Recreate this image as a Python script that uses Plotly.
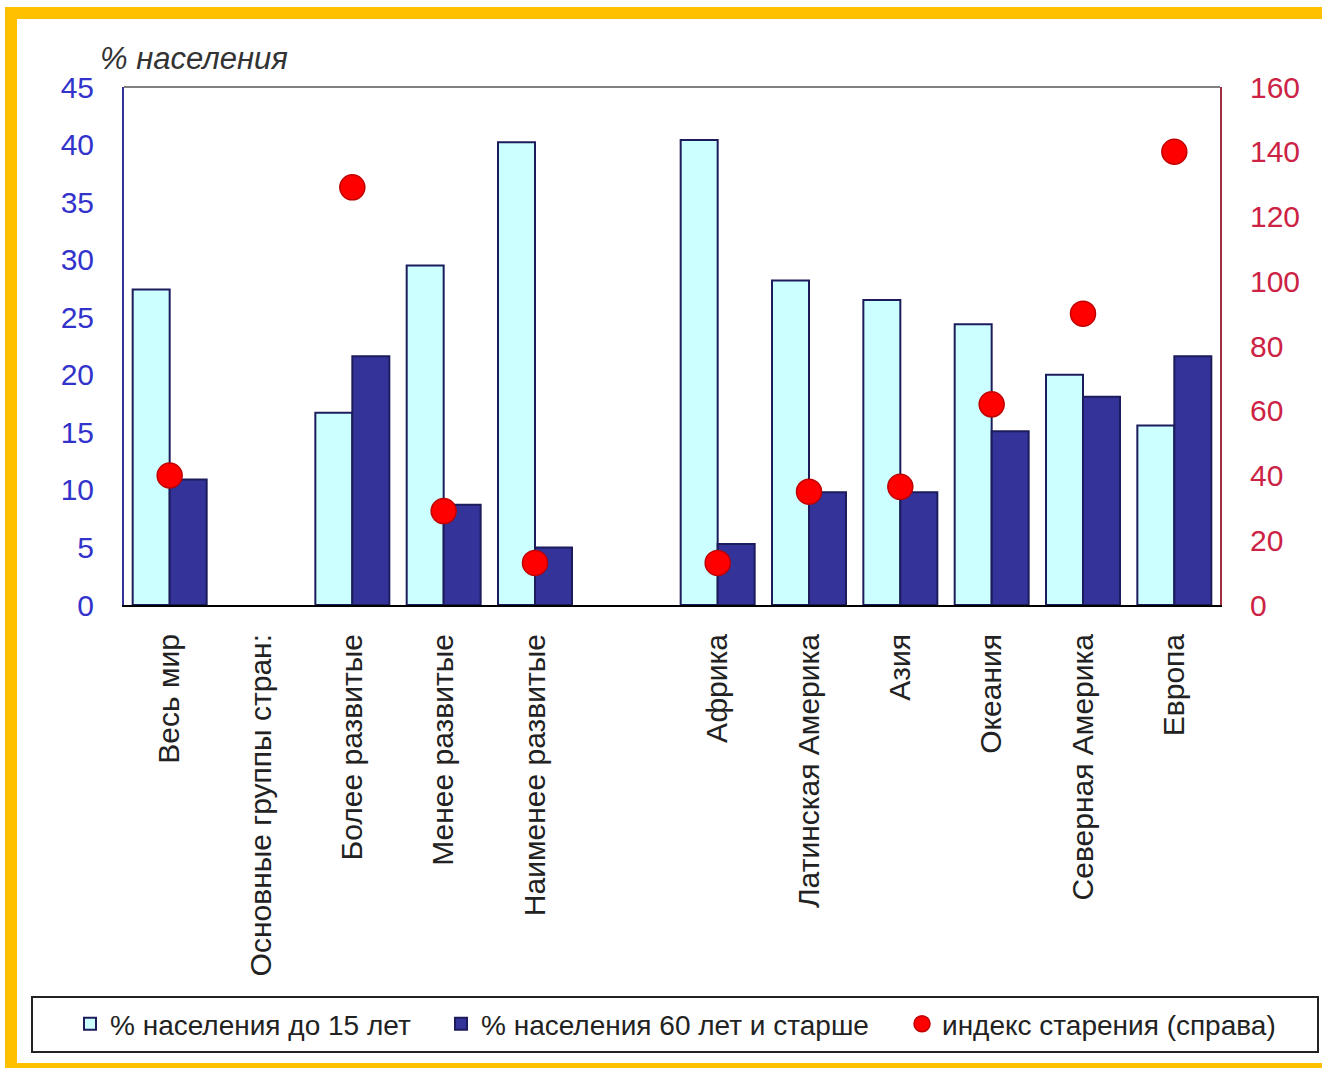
import plotly.graph_objects as go

categories = ["Весь мир", "Основные группы стран:", "Более развитые", "Менее развитые",
              "Наименее развитые", " ", "Африка", "Латинская Америка", "Азия",
              "Океания", "Северная Америка", "Европа"]
under15 = [27.4, None, 16.7, 29.5, 40.2, None, 40.4, 28.2, 26.5, 24.4, 20.0, 15.6]
over60 = [10.9, None, 21.6, 8.7, 5.0, None, 5.3, 9.8, 9.8, 15.1, 18.1, 21.6]
aging_index = [40, None, 129, 29, 13, None, 13, 35, 36.5, 62, 90, 140]

names = ["% населения до 15 лет", "% населения 60 лет и старше", "индекс старения (справа)"]

FONT = "Liberation Sans, Arial, sans-serif"
W, H = 1322, 1068
L, R, T, B = 124, 1220, 87, 605
PW, PH = R - L, B - T


def px(x):
    return (x - L) / PW


def py(y):
    return (B - y) / PH


fig = go.Figure()
fig.add_trace(go.Bar(
    x=categories, y=under15, name=names[0], legend="legend", showlegend=True,
    marker=dict(color="#CCFFFF", line=dict(color="#1C1C5C", width=2)),
))
fig.add_trace(go.Bar(
    x=categories, y=over60, name=names[1], legend="legend2", showlegend=True,
    marker=dict(color="#333399", line=dict(color="#1C1C5C", width=2)),
))
fig.add_trace(go.Scatter(
    x=categories, y=aging_index, name=names[2], yaxis="y2", mode="markers",
    legend="legend3", showlegend=True,
    marker=dict(color="#FF0000", size=25, line=dict(color="#C00000", width=1.5)),
))

leg_common = dict(
    orientation="h", yanchor="middle", xanchor="left",
    xref="container", yref="container",
    bgcolor="rgba(0,0,0,0)", borderwidth=0,
    font=dict(family=FONT, size=28, color="#222222"),
)
LEG_Y = 1 - 1024 / H

shapes = [
    # yellow frame
    dict(type="rect", xref="paper", yref="paper", x0=px(5), x1=px(17), y0=py(1068), y1=py(7),
         fillcolor="#FFC000", line=dict(width=0), layer="above"),
    dict(type="rect", xref="paper", yref="paper", x0=px(5), x1=px(1322), y0=py(19), y1=py(7),
         fillcolor="#FFC000", line=dict(width=0), layer="above"),
    dict(type="rect", xref="paper", yref="paper", x0=px(5), x1=px(1322), y0=py(1068), y1=py(1063),
         fillcolor="#FFC000", line=dict(width=0), layer="above"),
    # top plot border
    dict(type="line", xref="paper", yref="paper", x0=0, x1=1, y0=1, y1=1,
         line=dict(color="#808080", width=2)),
    # legend box
    dict(type="rect", xref="paper", yref="paper", x0=px(32), x1=px(1318), y0=py(1052), y1=py(997),
         line=dict(color="#222222", width=2)),
]

fig.update_layout(
    width=W, height=H, showlegend=True,
    margin=dict(l=L, r=W - R, t=T, b=H - B, pad=0, autoexpand=False),
    paper_bgcolor="white", plot_bgcolor="white",
    barmode="group", bargap=0.19, bargroupgap=0,
    font=dict(family=FONT),
    xaxis=dict(
        range=[-0.5, 11.5], showgrid=False, showline=True, linecolor="#000000", linewidth=2,
        ticks="", tickangle=-90, ticklabelstandoff=15,
        tickfont=dict(family=FONT, size=30, color="#222222"),
    ),
    yaxis=dict(
        range=[0, 45], dtick=5, showgrid=False, zeroline=False, showline=True,
        linecolor="#333399", linewidth=2, ticks="", ticklabelstandoff=22,
        tickfont=dict(family=FONT, size=30, color="#3333CC"),
    ),
    yaxis2=dict(
        range=[0, 160], dtick=20, overlaying="y", side="right", showgrid=False,
        zeroline=False, showline=True, linecolor="#A03040", linewidth=2, ticks="",
        ticklabelstandoff=22, tickfont=dict(family=FONT, size=30, color="#CC2244"),
    ),
    legend=dict(x=70 / W, y=LEG_Y, **leg_common),
    legend2=dict(x=441 / W, y=LEG_Y, **leg_common),
    legend3=dict(x=902 / W, y=LEG_Y, **leg_common),
    shapes=shapes,
    annotations=[dict(
        text="<i>% населения</i>", xref="paper", yref="paper", x=px(98), y=py(58),
        xanchor="left", yanchor="middle", showarrow=False,
        font=dict(family=FONT, size=31, color="#333333"),
    )],
)

fig.write_html("out.html", config={"displayModeBar": False},
               post_script="document.body.style.margin='0';")
